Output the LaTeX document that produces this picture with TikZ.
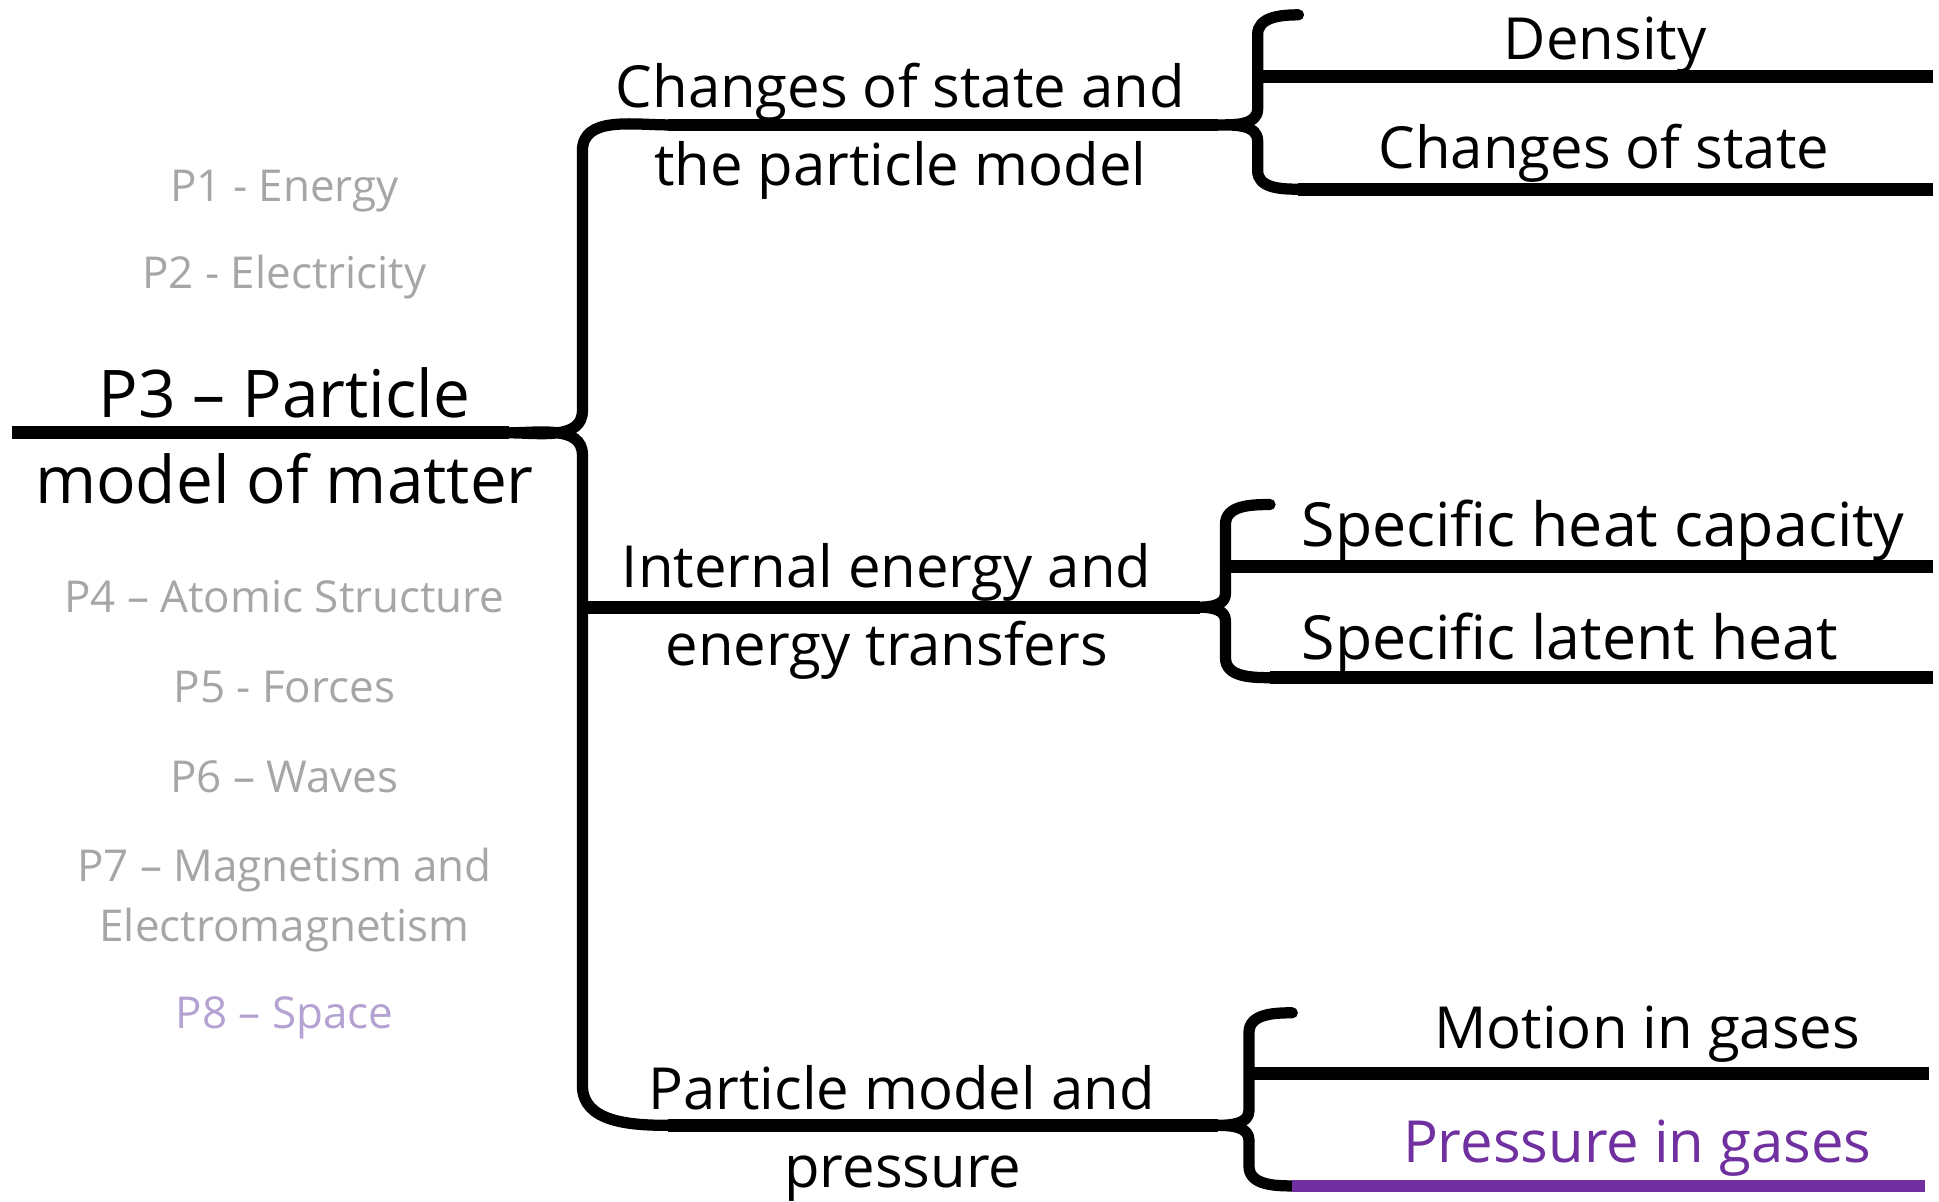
\documentclass[tikz,border=0pt]{standalone}
\usepackage{fontspec}
\setmainfont{Open Sans}
\definecolor{dimgrey}{RGB}{166,166,166}
\definecolor{spacelilac}{RGB}{180,162,210}
\definecolor{topicpurple}{RGB}{112,48,160}

\begin{document}
\begin{tikzpicture}[x=0.012366cm, y=-0.012366cm,
                    rule/.style={line width=3.6pt},
                    brace/.style={line width=3.2pt, line cap=round, line join=round},
                    unit/.style={font=\fontsize{12.5}{14}\selectfont, text=dimgrey, anchor=base, inner sep=0pt},
                    topic/.style={font=\fontsize{18.7}{22}\selectfont, anchor=base, inner sep=0pt},
                    sub/.style={font=\fontsize{16.5}{20}\selectfont, anchor=base, inner sep=0pt}]
  \useasboundingbox (0,0) rectangle (1568,972);

  % the other units of the course, greyed out
  \node[unit] (p1) at (230,163) {P1 - Energy};
  \node[unit] (p2) at (230,233) {P2 - Electricity};
  \node[unit] (p4) at (230,495) {P4 – Atomic Structure};
  \node[unit] (p5) at (230,568) {P5 - Forces};
  \node[unit] (p6) at (230,641) {P6 – Waves};
  \node[unit] (p7a) at (230,713) {P7 – Magnetism and};
  \node[unit] (p7b) at (230,761) {Electromagnetism};
  \node[unit, text=spacelilac] (p8) at (230,832) {P8 – Space};

  % the open unit and its brace
  \node[topic] (p3a) at (230,338) {P3 – Particle};
  \node[topic] (p3b) at (230,407) {model of matter};
  \coordinate (p3l) at (10,350);
  \coordinate (p3r) at (412,350);
  \draw[rule] (p3l) -- (p3r);

  \coordinate (mtop) at (540,101);
  \coordinate (mmid) at (471,491);
  \coordinate (mbot) at (540,910);
  \draw[brace] (mtop) to[out=180,in=90] (471,122) -- (471,332) to[out=-90,in=0] (p3r)
               to[out=0,in=90] (471,368) -- (471,878) to[out=-90,in=180] (mbot);

  % first topic
  \node[sub] (cs1) at (728,87)  {Changes of state and};
  \node[sub] (cs2) at (728,150) {the particle model};
  \coordinate (s1) at (985,101);
  \draw[rule] (mtop) -- (s1);
  \coordinate (s1top) at (1050,12);
  \coordinate (s1bot) at (1050,153);
  \draw[brace] (s1top) to[out=180,in=90] (1017,28) -- (1017,88) to[out=-90,in=0] (s1)
               to[out=0,in=90] (1017,114) -- (1017,138) to[out=-90,in=180] (s1bot);
  \node[sub] (dens) at (1298,48)  {Density};
  \node[sub] (chst) at (1297,136) {Changes of state};
  \coordinate (densl) at (1017,62);
  \coordinate (densr) at (1563,62);
  \coordinate (chstr) at (1563,153);
  \draw[rule] (densl) -- (densr);
  \draw[rule] (s1bot) -- (chstr);

  % second topic
  \node[sub] (ie1) at (717,475) {Internal energy and};
  \node[sub] (ie2) at (717,538) {energy transfers};
  \coordinate (s2) at (970,491);
  \draw[rule] (mmid) -- (s2);
  \coordinate (s2top) at (1027,408);
  \coordinate (s2bot) at (1027,548);
  \draw[brace] (s2top) to[out=180,in=90] (991,424) -- (991,480) to[out=-90,in=0] (s2)
               to[out=0,in=90] (991,502) -- (991,532) to[out=-90,in=180] (s2bot);
  \node[sub, anchor=base west, font=\fontsize{17.3}{20}\selectfont] (shc) at (1052,442) {Specific heat capacity};
  \node[sub, anchor=base west, font=\fontsize{17.3}{20}\selectfont] (slh) at (1052,533) {Specific latent heat};
  \coordinate (shcl) at (991,458);
  \coordinate (shcr) at (1563,458);
  \coordinate (slhr) at (1563,548);
  \draw[rule] (shcl) -- (shcr);
  \draw[rule] (s2bot) -- (slhr);

  % third topic
  \node[sub] (pm1) at (729,897) {Particle model and};
  \node[sub] (pm2) at (730,960) {pressure};
  \coordinate (s3) at (985,910);
  \draw[rule] (mbot) -- (s3);
  \coordinate (s3top) at (1045,819);
  \coordinate (s3bot) at (1045,959);
  \draw[brace] (s3top) to[out=180,in=90] (1010,835) -- (1010,898) to[out=-90,in=0] (s3)
               to[out=0,in=90] (1010,922) -- (1010,943) to[out=-90,in=180] (s3bot);
  \node[sub] (mig) at (1332,848) {Motion in gases};
  \node[sub, text=topicpurple] (pig) at (1324,940) {Pressure in gases};
  \coordinate (migl) at (1010,868);
  \coordinate (migr) at (1560,868);
  \coordinate (pigr) at (1557,959);
  \draw[rule] (migl) -- (migr);
  \draw[rule, topicpurple] (s3bot) -- (pigr);
\end{tikzpicture}
\end{document}
